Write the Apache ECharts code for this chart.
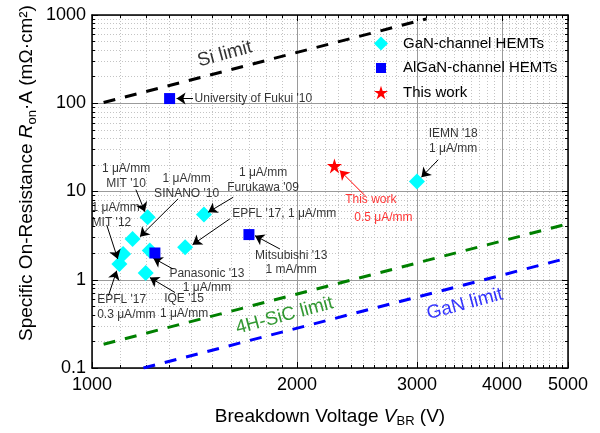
<!DOCTYPE html>
<html><head><meta charset="utf-8">
<script src="https://cdn.jsdelivr.net/npm/echarts@6/dist/echarts.min.js"></script>
<style>html,body{margin:0;padding:0;background:#fff}#c{width:600px;height:433px}</style>
</head><body><div id="c"></div>
<script>
// ---------------- data ----------------
const ganNames = ["MIT '10", "Furukawa '09", "SINANO '10", "EPFL '17", "Panasonic '13 (GaN)", "MIT '12", "EPFL '17 (0.3)", "IQE '15", "IEMN '18"];
const ganVbr   = [1207, 1460, 1147, 1370, 1216, 1111, 1097, 1199, 3000];
const ganRon   = [5.1, 5.5, 2.9, 2.33, 2.14, 1.96, 1.51, 1.19, 13];

const alganNames = ["University of Fukui '10", "Mitsubishi '13", "Panasonic '13"];
const alganVbr   = [1300, 1700, 1237];
const alganRon   = [113, 3.25, 2.01];

const thisWorkVbr = [2270];
const thisWorkRon = [19.5];

const siLimitVbr  = [1040, 3100];
const siLimitRon  = [101.8, 904];
const sicLimitVbr = [1040, 5000];
const sicLimitRon = [0.186, 4.3];
const ganLimitVbr = [1190, 5000];
const ganLimitRon = [0.1, 1.765];

const xTickValues = [1000, 2000, 3000, 4000, 5000];
const yTickValues = [0.1, 1, 10, 100, 1000];

// annotation texts (anchored in data coordinates) and arrows
const annTexts  = ["University of Fukui '10", "1 μA/mm\nMIT '10", "1 μA/mm\nSINANO '10", "1 μA/mm\nFurukawa '09", "EPFL '17, 1 μA/mm",
                   "Mitsubishi '13\n1 mA/mm", "Panasonic '13\n1 μA/mm", "IQE '15\n1 μA/mm", "1 μA/mm\nMIT '12", "EPFL '17\n0.3 μA/mm",
                   "IEMN '18\n1 μA/mm", "This work", "0.5 μA/mm"];
const annAt     = [[1412,113],[1122,15.0],[1377,11.55],[1783,13.5],[1604,5.58],
                   [1961,1.56],[1475,0.98],[1365,0.503],[997,5.36],[1016,0.487],
                   [3391,37.2],[2567,8.11],[2678,5.1]];
const annLeft   = [true,false,false,false,true,false,false,false,true,true,false,false,false];
const annRed    = [false,false,false,false,false,false,false,false,false,false,false,true,true];
const arrowFrom = [[1407,113],[1160,10.5],[1338,8.26],[1612,8.61],[1594,4.9],[1888,2.23],[1316,1.32],[1324,0.717],[1051,4.18],[1057,0.658],[3224,22.9],[2516,9.0]];
const arrowTo   = [[1331,113],[1196,5.9],[1176,3.08],[1481,5.82],[1405,2.5],[1735,3.16],[1230,1.76],[1216,1.06],[1091,1.72],[1087,1.266],[3046,14.5],[2312,17.3]];
const arrowRed  = [false,false,false,false,false,false,false,false,false,false,false,true];

const limitTexts = ["Si limit", "4H-SiC limit", "GaN limit"];
const limitAt    = [[1567,360],[1917,0.39],[3527,0.53]];
const limitCols  = ['#000000', '#008000', '#0000ff'];

// ---------------- helpers ----------------
const L = v => Math.log10(v);
const pt = (v, r) => [L(v), L(r)];
const FONT = 'Arial, "Liberation Sans", sans-serif';
const xMin = L(1000), xMax = L(5000), yMin = L(0.1), yMax = L(1000);

const xMinor = [];
for (let v = 1100; v < 5000; v += 100) if (v % 1000 !== 0) xMinor.push(L(v));
const yMinor = [];
for (let k = -1; k <= 2; k++) for (let m = 2; m <= 9; m++) yMinor.push(L(m * Math.pow(10, k)));

const fmt = v => { const n = Math.pow(10, v); return n < 1 ? n.toFixed(1) : String(Math.round(n)); };

function xAx(pos, major, showLabel) {
  return {
    type: 'value', position: pos, min: xMin, max: xMax,
    axisLine: { show: major, onZero: false, lineStyle: { color: '#000', width: 1.5 } },
    axisTick: { show: true, inside: true, length: major ? 6 : 3, customValues: major ? xTickValues.map(L) : xMinor,
                lineStyle: { color: '#000', width: 1 } },
    axisLabel: { show: showLabel, customValues: xTickValues.map(L), formatter: fmt, fontSize: 18, color: '#000', fontFamily: FONT, margin: 8 },
    splitLine: { show: pos === 'bottom', lineStyle: major ? { color: '#9a9a9a', width: 1 } : { color: '#c4c4c4', width: 1, type: [1, 2] } }
  };
}
function yAx(pos, major, showLabel) {
  return {
    type: 'value', position: pos, min: yMin, max: yMax,
    axisLine: { show: major, onZero: false, lineStyle: { color: '#000', width: 1.5 } },
    axisTick: { show: true, inside: true, length: major ? 6 : 3, customValues: major ? yTickValues.map(L) : yMinor,
                lineStyle: { color: '#000', width: 1 } },
    axisLabel: { show: showLabel, customValues: yTickValues.map(L), formatter: fmt, fontSize: 18, color: '#000', fontFamily: FONT, margin: 6 },
    splitLine: { show: pos === 'left', lineStyle: major ? { color: '#9a9a9a', width: 1 } : { color: '#c4c4c4', width: 1, type: [1, 2] } }
  };
}

const STAR = 'path://M50,0 L61.2,34.5 L97.6,34.5 L68.2,55.9 L79.4,90.5 L50,69.1 L20.6,90.5 L31.8,55.9 L2.4,34.5 L38.8,34.5 Z';

const annData = annTexts.map((t, i) => ({
  value: pt(annAt[i][0], annAt[i][1]),
  label: {
    show: true, formatter: t, position: annLeft[i] ? 'right' : 'inside', distance: 0,
    align: annLeft[i] ? 'left' : 'center', verticalAlign: 'middle',
    fontSize: 12, lineHeight: 14.5, color: annRed[i] ? '#ff0000' : '#000', fontFamily: FONT
  }
}));
const limitData = limitTexts.map((t, i) => ({
  value: pt(limitAt[i][0], limitAt[i][1]),
  label: { show: true, formatter: t, position: 'inside', rotate: 15, fontSize: 19, color: limitCols[i], fontFamily: FONT }
}));
const arrowData = arrowFrom.map((f, i) => [
  { coord: pt(f[0], f[1]), lineStyle: { color: arrowRed[i] ? '#ff0000' : '#000' }, itemStyle: { color: arrowRed[i] ? '#ff0000' : '#000' } },
  { coord: pt(arrowTo[i][0], arrowTo[i][1]), itemStyle: { color: arrowRed[i] ? '#ff0000' : '#000' } }
]);

function limitLine(name, vs, rs, col) {
  return {
    name: name, type: 'line', data: vs.map((v, i) => pt(v, rs[i])), showSymbol: false, symbol: 'none',
    lineStyle: { color: col, width: 3, type: [12, 10] }, z: 2, silent: true
  };
}

const chart = echarts.init(document.getElementById('c'));
chart.setOption({
  animation: false,
  backgroundColor: '#fff',
  grid: { left: 92, right: 32, top: 15, bottom: 65, containLabel: false },
  xAxis: [
    Object.assign(xAx('bottom', true, true), {
      name: '{a|Breakdown Voltage }{i|V}{s|BR}{a| (V)}', nameLocation: 'middle', nameGap: 37,
      nameTextStyle: { rich: {
        a: { fontSize: 19, fontFamily: FONT, color: '#000' },
        i: { fontSize: 19, fontFamily: FONT, fontStyle: 'italic', color: '#000' },
        s: { fontSize: 13, fontFamily: FONT, color: '#000', padding: [10, 0, 0, 0] } } }
    }),
    xAx('bottom', false, false),
    xAx('top', true, false),
    xAx('top', false, false)
  ],
  yAxis: [
    yAx('left', true, true),
    yAx('left', false, false),
    yAx('right', true, false),
    yAx('right', false, false)
  ],
  legend: {
    orient: 'vertical', left: 374, top: 19, padding: [17, 4, 4, 0], itemWidth: 14, itemHeight: 14, itemGap: 9.5,
    textStyle: { fontSize: 15, color: '#000', fontFamily: FONT, padding: [0, 0, 0, 10] },
    data: [
      { name: 'GaN-channel HEMTs', icon: 'diamond' },
      { name: 'AlGaN-channel HEMTs', icon: 'path://M-2,-2L-2,-2M12,12L12,12M0,0H10V10H0Z' },
      { name: 'This work', icon: STAR }
    ]
  },
  graphic: [{
    type: 'text', x: 27, y: 173, rotation: Math.PI / 2, z: 10,
    style: {
      text: '{a|Specific On-Resistance }{i|R}{s|on}{a|·A (mΩ·cm²)}',
      align: 'center', verticalAlign: 'middle',
      rich: {
        a: { fontSize: 19, fontFamily: FONT, fill: '#000' },
        i: { fontSize: 19, fontFamily: FONT, fontStyle: 'italic', fill: '#000' },
        s: { fontSize: 13, fontFamily: FONT, fill: '#000', padding: [10, 0, 0, 0] }
      }
    }
  }],
  series: [
    limitLine('Si limit', siLimitVbr, siLimitRon, '#000'),
    limitLine('4H-SiC limit', sicLimitVbr, sicLimitRon, '#008000'),
    limitLine('GaN limit', ganLimitVbr, ganLimitRon, '#0000ff'),
    {
      name: 'GaN-channel HEMTs', type: 'scatter', symbol: 'diamond', symbolSize: 16, z: 4,
      itemStyle: { color: '#00ffff', opacity: 1 },
      data: ganVbr.map((v, i) => ({ name: ganNames[i], value: pt(v, ganRon[i]) }))
    },
    {
      name: 'AlGaN-channel HEMTs', type: 'scatter', symbol: 'rect', symbolSize: 11, z: 5,
      itemStyle: { color: '#0000ff', opacity: 1 },
      data: alganVbr.map((v, i) => ({ name: alganNames[i], value: pt(v, alganRon[i]) }))
    },
    {
      name: 'This work', type: 'scatter', symbol: STAR, symbolSize: 15, z: 5,
      itemStyle: { color: '#ff0000', opacity: 1 },
      data: thisWorkVbr.map((v, i) => pt(v, thisWorkRon[i]))
    },
    {
      name: 'annotations', type: 'scatter', symbolSize: 1, clip: false, silent: true, z: 6,
      itemStyle: { color: 'rgba(0,0,0,0)' },
      data: annData.concat(limitData),
      markLine: {
        silent: true, symbol: ['none', 'arrow'], symbolSize: 9, precision: 6,
        lineStyle: { color: '#000', width: 1, type: 'solid' },
        itemStyle: { color: '#000' },
        label: { show: false }, emphasis: { disabled: true },
        data: arrowData
      }
    }
  ]
});
</script>
</body></html>
